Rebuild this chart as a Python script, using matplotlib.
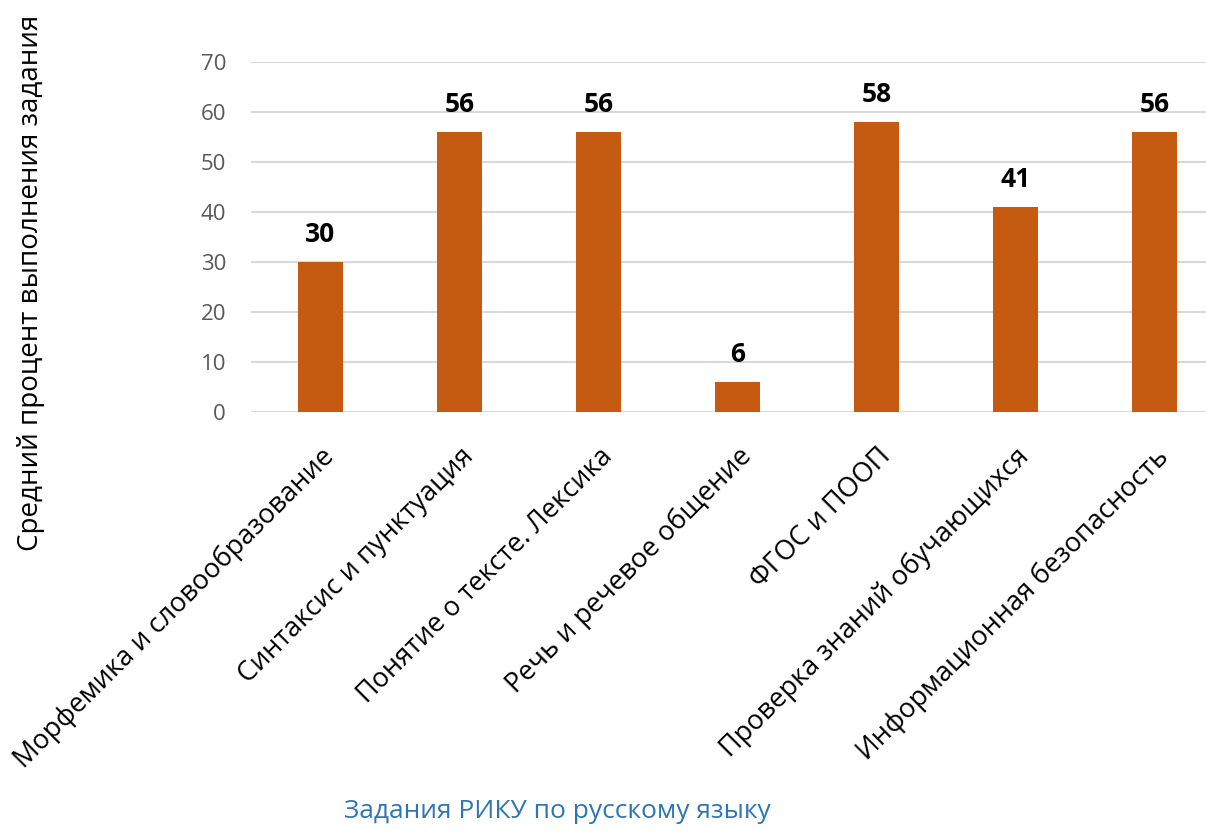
import numpy as np
import matplotlib.pyplot as plt

# data
categories = ['Морфемика и словообразование', 'Синтаксис и пунктуация',
              'Понятие о тексте. Лексика', 'Речь и речевое общение',
              'ФГОС и ПООП', 'Проверка знаний обучающихся',
              'Информационная безопасность']
values = [30, 56, 56, 6, 58, 41, 56]
yticks = [0, 10, 20, 30, 40, 50, 60, 70]

plt.rcParams['font.family'] = ['Open Sans', 'DejaVu Sans']

fig = plt.figure(figsize=(12.06, 8.31), dpi=100)
ax = fig.add_axes([251/1206, 0.504, 1 - 251/1206, 0.421])

x = np.arange(len(categories))
bars = ax.bar(x, values, width=0.32, color='#C55A11', zorder=3)

# value labels above bars
for xi, v in zip(x, values):
    ax.annotate(str(v), (xi, v), xytext=(0, 10), textcoords='offset points',
                ha='center', va='bottom', fontsize=19, fontweight='bold',
                color='black')

ax.set_xlim(-0.5, 6.37)
ax.set_ylim(0, 70)
ax.set_yticks(yticks)
ax.grid(axis='y', color='#d9d9d9', linewidth=1.5, zorder=0)
for s in ax.spines.values():
    s.set_visible(False)
ax.tick_params(length=0)
ax.tick_params(axis='y', labelsize=16, labelcolor='#595959', pad=18)
ax.set_xticks(x)
ax.set_xticklabels(categories, rotation=45, ha='right', rotation_mode='anchor',
                   fontsize=19.5, color='black')
ax.tick_params(axis='x', pad=22)

fig.text(0.026, 0.66, 'Средний процент выполнения задания', rotation=90,
         ha='center', va='center', fontsize=20, color='black')
fig.text(557/1206, 1 - 812/831, 'Задания РИКУ по русскому языку',
         ha='center', va='center', fontsize=19, color='#2E75B6')

fig.savefig('out.png', dpi=100)
